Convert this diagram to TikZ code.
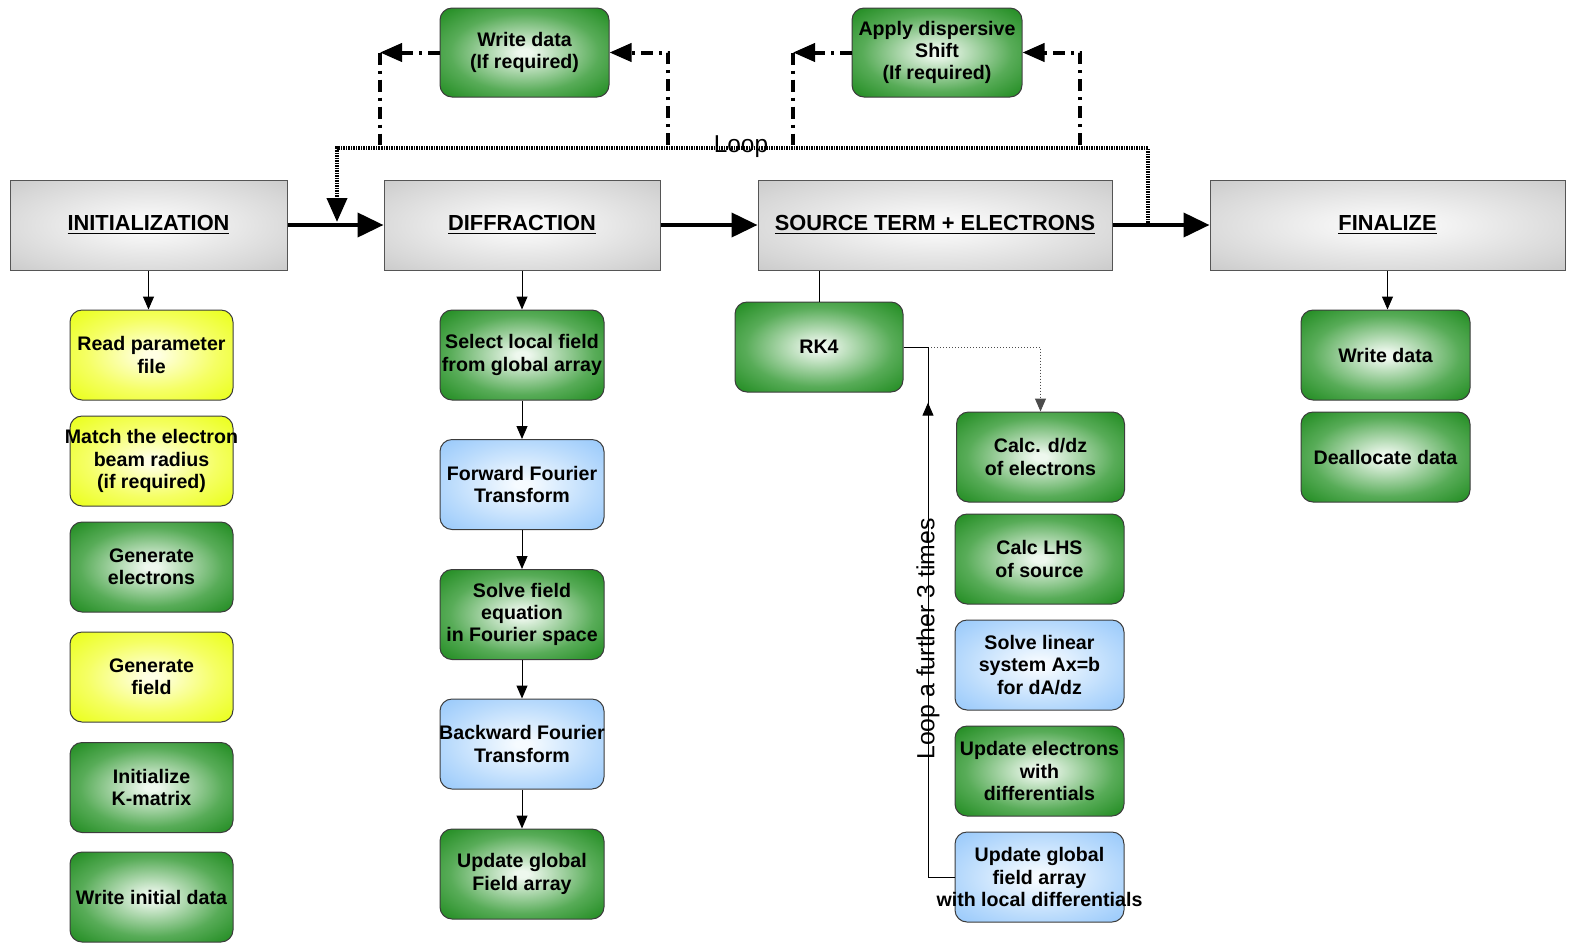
\documentclass[tikz,border=0pt]{standalone}
\usepackage{fontspec}
\setmainfont{Liberation Sans}
\usetikzlibrary{arrows.meta,decorations.markings}
\definecolor{gcen}{RGB}{238,248,238}
\definecolor{gmid}{RGB}{88,172,88}
\definecolor{gout}{RGB}{6,124,6}
\definecolor{ycen}{RGB}{255,255,228}
\definecolor{ymid}{RGB}{245,255,100}
\definecolor{yout}{RGB}{230,255,0}
\definecolor{bcen}{RGB}{246,251,255}
\definecolor{bmid}{RGB}{184,218,252}
\definecolor{bout}{RGB}{128,188,250}
\definecolor{hcen}{RGB}{250,250,250}
\definecolor{hmid}{RGB}{215,215,215}
\definecolor{hout}{RGB}{180,180,180}
\definecolor{bordc}{RGB}{60,60,60}
\definecolor{hbord}{RGB}{85,85,85}
\pgfdeclareradialshading{greensh}{\pgfpoint{0bp}{0bp}}{color(0bp)=(gcen); color(2bp)=(gcen); color(22bp)=(gmid); color(41bp)=(gout); color(100bp)=(gout)}
\pgfdeclareradialshading{yellowsh}{\pgfpoint{0bp}{0bp}}{color(0bp)=(ycen); color(2bp)=(ycen); color(20bp)=(ymid); color(40bp)=(yout); color(100bp)=(yout)}
\pgfdeclareradialshading{bluesh}{\pgfpoint{0bp}{0bp}}{color(0bp)=(bcen); color(2bp)=(bcen); color(23bp)=(bmid); color(44bp)=(bout); color(100bp)=(bout)}
\pgfdeclareradialshading{graysh}{\pgfpoint{0bp}{0bp}}{color(0bp)=(hcen); color(3bp)=(hcen); color(28bp)=(hmid); color(50bp)=(hout); color(100bp)=(hout)}
\begin{document}
\begin{tikzpicture}[x=0.5pt,y=-0.5pt,
  boxbase/.style={rounded corners=6pt, draw=bordc, line width=0.5pt, minimum width=82pt, minimum height=45pt, inner sep=0pt, align=center, font=\bfseries\fontsize{9.8}{11.2}\selectfont},
  gbox/.style={boxbase, shading=greensh},
  ybox/.style={boxbase, shading=yellowsh},
  bbox/.style={boxbase, shading=bluesh},
  hdr/.style={draw=hbord, line width=0.5pt, shading=graysh, minimum height=45pt, inner sep=0pt, font=\bfseries\fontsize{10.9}{13}\selectfont},
  thickarr/.style={line width=2pt, -{Triangle[length=13pt,width=12pt]}},
  thinarr/.style={line width=0.5pt, -{Triangle[length=6.5pt,width=5.5pt]}},
  dd/.style={line width=2pt, dash pattern=on 6pt off 3pt on 1.5pt off 3pt},
  ddarr/.style={dd, -{Triangle[length=11pt,width=9pt]}},
  lp/.style={line width=2pt, dash pattern=on 0.75pt off 0.5pt},
  lbl/.style={font=\fontsize{12.2}{14}\selectfont}
]
\useasboundingbox (0,0) rectangle (1571,944);

% headers
\node[hdr, minimum width=138.5pt] (init) at (148.5,225) {\raisebox{-1.5pt}{\underline{INITIALIZATION}}};
\node[hdr, minimum width=138pt] (diff) at (522,225) {\raisebox{-1.5pt}{\underline{DIFFRACTION}}};
\node[hdr, minimum width=177pt] (src) at (935,225) {\raisebox{-1.5pt}{\underline{SOURCE TERM + ELECTRONS}}};
\node[hdr, minimum width=177.5pt] (fin) at (1387.5,225) {\raisebox{-1.5pt}{\underline{FINALIZE}}};

\draw[thickarr] (init.east) -- (diff.west);
\draw[thickarr] (diff.east) -- (src.west);
\draw[thickarr] (src.east) -- (fin.west);

% column 1
\node[ybox, minimum width=81.5pt] (rp) at (151.5,355) {Read parameter\\file};
\node[ybox, minimum width=81.5pt] (mt) at (151.5,461) {\makebox[0pt]{Match the electron}\\beam radius\\(if required)};
\node[gbox, minimum width=81.5pt] (ge) at (151.5,567) {Generate\\electrons};
\node[ybox, minimum width=81.5pt] (gf) at (151.5,677) {Generate\\field};
\node[gbox, minimum width=81.5pt] (ik) at (151.5,787.5) {Initialize\\K-matrix};
\node[gbox, minimum width=81.5pt] (wi) at (151.5,897) {Write initial data};
\draw[thinarr] (init.south) -- (init.south |- rp.north);

% column 2
\node[gbox] (sel) at (522,355) {Select local field\\from global array};
\node[bbox] (fft) at (522,484.5) {Forward Fourier\\Transform};
\node[gbox] (sfe) at (522,614.5) {Solve field\\equation\\in Fourier space};
\node[bbox] (bft) at (522,744) {\makebox[0pt]{Backward Fourier}\\Transform};
\node[gbox] (ugf) at (522,874) {Update global\\Field array};
\draw[thinarr] (diff.south) -- (sel.north);
\draw[thinarr] (sel.south) -- (fft.north);
\draw[thinarr] (fft.south) -- (sfe.north);
\draw[thinarr] (sfe.south) -- (bft.north);
\draw[thinarr] (bft.south) -- (ugf.north);

% column 3
\node[gbox, minimum width=84pt] (rk) at (819,347) {RK4};
\node[gbox, minimum width=84pt] (cd) at (1040.5,457) {Calc. d/dz\\of electrons};
\node[gbox, minimum width=84.5pt] (cl) at (1039.5,559) {Calc LHS\\of source};
\node[bbox, minimum width=84.5pt] (sl) at (1039.5,665) {Solve linear\\system Ax=b\\for dA/dz};
\node[gbox, minimum width=84.5pt] (ue) at (1039.5,771) {Update electrons\\with\\differentials};
\node[bbox, minimum width=84.5pt] (ug) at (1039.5,877) {Update global\\field array\\\makebox[0pt]{with local differentials}};
\draw[line width=0.5pt] (rk.north) -- (rk.north |- src.south);
\coordinate (rkj) at (928,347);
\draw[line width=0.5pt] (rk.east) -- (rkj);
\draw[line width=0.5pt, densely dotted, draw=black!70, -{Triangle[length=6.5pt,width=5.5pt]}] (rkj) -| (cd.north);
\draw[line width=0.5pt, decoration={markings, mark=at position 0.9 with {\arrow{Triangle[length=6.5pt,width=5.5pt]}}}, postaction={decorate}] (ug.west) -| (rkj);
\node[rotate=90, font=\fontsize{12.4}{14}\selectfont] (l3) at (928,639) {Loop a further 3 times};

% finalize
\node[gbox, minimum width=84.5pt] (wd) at (1385.5,355) {Write data};
\node[gbox, minimum width=84.5pt] (dd) at (1385.5,457) {Deallocate data};
\draw[thinarr] (fin.south) -- (fin.south |- wd.north);

% top optional boxes
\node[gbox, minimum width=84.5pt, minimum height=44.5pt] (wdt) at (524.5,52.5) {Write data\\(If required)};
\node[gbox, minimum width=85pt, minimum height=44.5pt] (ads) at (937,52.5) {Apply dispersive\\Shift\\(If required)};

% loop
\coordinate (lpS) at (1148,225);
\coordinate (lpTop) at (741,148);
\coordinate (lpE) at (337,222);
\draw[lp, -{Triangle[length=12pt,width=10pt]}] (lpS) |- (lpTop) -| (lpE);
\node[lbl] (looplbl) at (741,147) {Loop};

% dash-dot branches
\coordinate (wdR) at (668,145);
\coordinate (wdLc) at (380,52.5);
\coordinate (wdL) at (380,145);
\draw[ddarr] (wdR) |- (wdt.east);
\draw[ddarr] (wdt.west) -- (wdLc);
\draw[dd] (wdLc) -- (wdL);
\coordinate (adR) at (1080,145);
\coordinate (adLc) at (793,52.5);
\coordinate (adL) at (793,145);
\draw[ddarr] (adR) |- (ads.east);
\draw[ddarr] (ads.west) -- (adLc);
\draw[dd] (adLc) -- (adL);
\end{tikzpicture}
\end{document}
